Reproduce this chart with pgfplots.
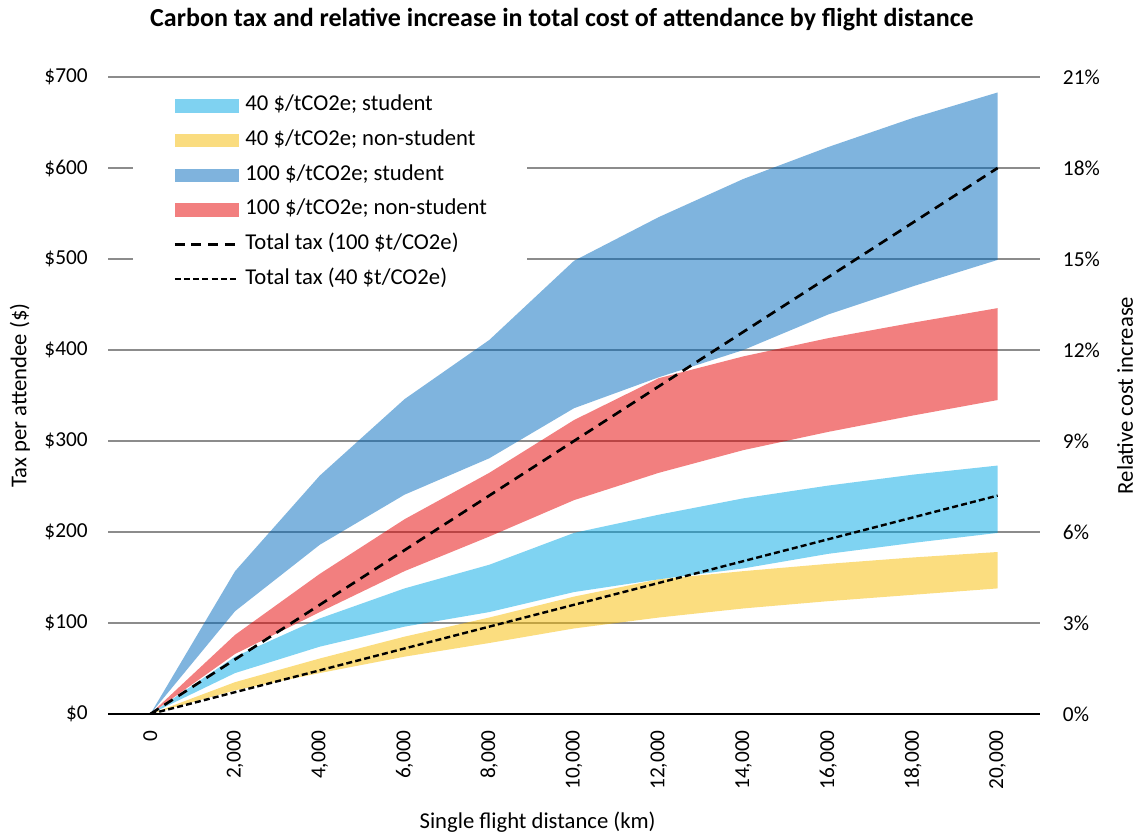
\documentclass[border=0pt]{standalone}
\usepackage{pgfplots}
\pgfplotsset{compat=1.18}
\usepackage{pgfplotstable}
\usepgfplotslibrary{fillbetween}
\usepackage{fontspec}
\setmainfont{Carlito}

\definecolor{lblue}{RGB}{0,167,229}
\definecolor{lyellow}{RGB}{247,187,0}
\definecolor{dblue}{RGB}{0,105,189}
\definecolor{lred}{RGB}{230,0,0}
\definecolor{gridgray}{RGB}{140,140,140}

\pgfplotsset{
    arealeg/.style={legend image code/.code={\fill[##1] (0pt,-5pt) rectangle (48pt,5pt); \path (52pt,0pt);}},
    lineleg/.style={legend image code/.code={\draw[##1] (0pt,0pt) -- (48pt,0pt); \path (52pt,0pt);}},
}

% bands: lower/upper bound of tax per attendee ($)
\pgfplotstableread{
x     s40lo s40hi n40lo n40hi s100lo s100hi n100lo n100hi
0     0     0     0     0     0      0      0      0
2000  45    63    26    35    113    157    66     87
4000  74    105   45    61    186    262    112    154
6000  96    138   63    85    241    346    157    214
8000  112   164   78    106   281    411    195    265
10000 134   199   94    129   336    498    235    323
12000 148   219   106   148   370    546    265    369
14000 160   237   116   157   400    588    290    393
16000 176   251   124   165   439    623    310    413
18000 188   263   131   172   470    655    328    430
20000 199   273   138   178   499    683    345    446
}\bands

\pgfplotstableread{
x     tot100 tot40
0     0      0
2000  60     24
4000  120    48
6000  180    72
8000  240    96
10000 300    120
12000 360    144
14000 420    168
16000 480    192
18000 540    216
20000 600    240
}\totals

\newcommand{\fs}{\fontsize{17}{20}\selectfont}
\newcommand{\ft}{\fontsize{16}{19}\selectfont}

\begin{document}
\begin{tikzpicture}
\begin{axis}[
    name=ax,
    scale only axis, width=699pt, height=477.75pt,
    xmin=-1000, xmax=21000, ymin=0, ymax=700,
    xtick={0,2000,...,20000},
    scaled x ticks=false,
    ytick={100,200,...,700},
    extra y ticks={0},
    extra y tick style={grid style={black, line width=1.6pt}},
    ymajorgrids, grid style={gridgray, line width=1.1pt},
    major tick length=0pt,
    axis line style={draw=none},
    /pgf/number format/assume math mode=true,
    /pgf/number format/1000 sep={,},
    yticklabel={\$\pgfmathprintnumber{\tick}},
    tick label style={font=\ft},
    yticklabel style={anchor=east, inner sep=0pt, xshift=-15pt},
    xticklabel style={yshift=-12pt, rotate=90, anchor=east, inner sep=0pt},
    xlabel={Single flight distance (km)},
    xlabel style={at={(axis description cs:0.461,-0.1695)}, anchor=center, font=\fs},
    ylabel={Tax per attendee (\$)},
    ylabel style={at={(axis description cs:-0.0944,0.5)}, anchor=center, font=\fs},
    title={Carbon tax and relative increase in total cost of attendance by flight distance},
    title style={at={(axis description cs:0.487,1.077)}, anchor=center, font=\bfseries\fontsize{19.5}{23}\selectfont},
    legend style={draw=none, fill=white, at={(axis description cs:0.027,0.9827)}, anchor=north west,
        inner xsep=30pt, inner ysep=6pt, font=\fs, row sep=11.5pt,
        nodes={inner sep=0pt, text height=11pt, text depth=3.5pt}},
    legend cell align=left,
]
% invisible bounds
\addplot[draw=none, forget plot, name path=n40lo] table[x=x, y=n40lo]{\bands};
\addplot[draw=none, forget plot, name path=n40hi] table[x=x, y=n40hi]{\bands};
\addplot[draw=none, forget plot, name path=s40lo] table[x=x, y=s40lo]{\bands};
\addplot[draw=none, forget plot, name path=s40hi] table[x=x, y=s40hi]{\bands};
\addplot[draw=none, forget plot, name path=n100lo] table[x=x, y=n100lo]{\bands};
\addplot[draw=none, forget plot, name path=n100hi] table[x=x, y=n100hi]{\bands};
\addplot[draw=none, forget plot, name path=s100lo] table[x=x, y=s100lo]{\bands};
\addplot[draw=none, forget plot, name path=s100hi] table[x=x, y=s100hi]{\bands};

\addplot[fill=lyellow, fill opacity=0.5, forget plot] fill between[of=n40lo and n40hi];
\addplot[fill=lblue, fill opacity=0.5, forget plot] fill between[of=s40lo and s40hi];
\addplot[fill=lred, fill opacity=0.5, forget plot] fill between[of=n100lo and n100hi];
\addplot[fill=dblue, fill opacity=0.5, forget plot] fill between[of=s100lo and s100hi];

\addlegendimage{arealeg, fill=lblue, fill opacity=0.5, draw=none}
\addlegendentry{40 \$/tCO2e; student}
\addlegendimage{arealeg, fill=lyellow, fill opacity=0.5, draw=none}
\addlegendentry{40 \$/tCO2e; non-student}
\addlegendimage{arealeg, fill=dblue, fill opacity=0.5, draw=none}
\addlegendentry{100 \$/tCO2e; student}
\addlegendimage{arealeg, fill=lred, fill opacity=0.5, draw=none}
\addlegendentry{100 \$/tCO2e; non-student}

\addplot[black, line width=2pt, dash pattern=on 7.5pt off 5pt, lineleg] table[x=x, y=tot100]{\totals};
\addlegendentry{Total tax (100 \$t/CO2e)}
\addplot[black, line width=1.8pt, dash pattern=on 4.5pt off 2.4pt, lineleg] table[x=x, y=tot40]{\totals};
\addlegendentry{Total tax (40 \$t/CO2e)}
\end{axis}

\begin{axis}[
    scale only axis, width=699pt, height=477.75pt,
    xmin=-1000, xmax=21000, ymin=0, ymax=21,
    hide x axis, axis y line*=right, y axis line style={draw=none},
    ytick={0,3,...,21},
    major tick length=0pt,
    /pgf/number format/assume math mode=true,
    yticklabel={\pgfmathprintnumber{\tick}\%},
    yticklabel style={anchor=west, inner sep=0pt, xshift=17pt, font=\ft},
    ylabel={Relative cost increase},
    ylabel style={at={(axis description cs:1.0912,0.5)}, anchor=center, font=\fs},
]
\addplot[draw=none, forget plot] coordinates {(0,0)};
\end{axis}

\pgfresetboundingbox
\path ([shift={(-81pt,-91.5pt)}]ax.south west) rectangle ([shift={(72.75pt,57.75pt)}]ax.north east);
\end{tikzpicture}
\end{document}
